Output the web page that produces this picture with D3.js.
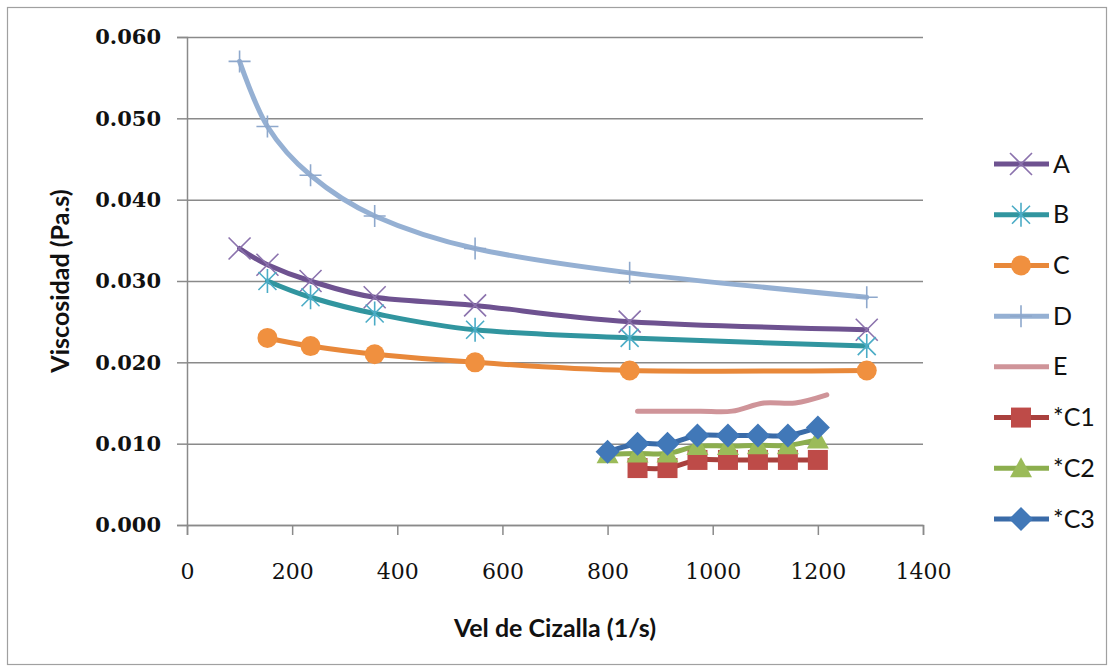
<!DOCTYPE html>
<html>
<head>
<meta charset="utf-8">
<script src="https://cdn.jsdelivr.net/npm/d3@7"></script>
<style>
  html, body { margin: 0; padding: 0; background: #ffffff; }
  svg { display: block; }
</style>
</head>
<body>
<svg id="chart" width="1117" height="672"></svg>
<script>
// Shear rates (1/s) for the main fluids
const rateMain = [100, 153, 235, 357, 548, 842, 1293];
const rateMainB = [153, 235, 357, 548, 842, 1293];
// Shear rates for the low-viscosity samples
const rateLow = [800, 857, 914, 971, 1029, 1086, 1143, 1200];
const rateLowC1 = [857, 914, 971, 1029, 1086, 1143, 1200];
const rateE = [857, 917, 977, 1037, 1097, 1157, 1217];

// Viscosity (Pa.s)
const viscA = [0.034, 0.032, 0.030, 0.028, 0.027, 0.025, 0.024];
const viscB = [0.030, 0.028, 0.026, 0.024, 0.023, 0.022];
const viscC = [0.023, 0.022, 0.021, 0.020, 0.019, 0.019];
const viscD = [0.057, 0.049, 0.043, 0.038, 0.034, 0.031, 0.028];
const viscE = [0.014, 0.014, 0.014, 0.014, 0.015, 0.015, 0.016];
const viscC1 = [0.007, 0.007, 0.008, 0.008, 0.008, 0.008, 0.008];
const viscC2 = [0.0087, 0.0088, 0.0088, 0.0097, 0.0097, 0.0098, 0.0098, 0.0105];
const viscC3 = [0.009, 0.010, 0.010, 0.011, 0.011, 0.011, 0.011, 0.012];

const seriesNames = ["A", "B", "C", "D", "E", "*C1", "*C2", "*C3"];

const xTicks = [0, 200, 400, 600, 800, 1000, 1200, 1400];
const yTicks = [0, 0.01, 0.02, 0.03, 0.04, 0.05, 0.06];

const xTitle = "Vel de Cizalla (1/s)";
const yTitle = "Viscosidad (Pa.s)";

// Series styling
const styles = {
  "A":   { line: "#6E5290", mark: "#8B72AD", shape: "x" },
  "B":   { line: "#31959F", mark: "#4BACC6", shape: "star" },
  "C":   { line: "#E8883A", mark: "#F0903F", shape: "circle" },
  "D":   { line: "#95B0D3", mark: "#8EA8CC", shape: "plus" },
  "E":   { line: "#CF9499", mark: null, shape: "none" },
  "*C1": { line: "#A9403D", mark: "#BE4B48", shape: "square" },
  "*C2": { line: "#8CAE4E", mark: "#9BBB59", shape: "triangle" },
  "*C3": { line: "#3A6BA8", mark: "#4178B8", shape: "diamond" }
};

const seriesData = [
  { name: "A", xs: rateMain, ys: viscA },
  { name: "B", xs: rateMainB, ys: viscB },
  { name: "C", xs: rateMainB, ys: viscC },
  { name: "D", xs: rateMain, ys: viscD },
  { name: "E", xs: rateE, ys: viscE },
  { name: "*C1", xs: rateLowC1, ys: viscC1 },
  { name: "*C2", xs: rateLow, ys: viscC2 },
  { name: "*C3", xs: rateLow, ys: viscC3 }
];

const svg = d3.select("#chart");

// Outer chart frame
svg.append("rect")
  .attr("x", 7.5).attr("y", 7.5)
  .attr("width", 1099).attr("height", 657)
  .attr("fill", "#ffffff")
  .attr("stroke", "#a0a0a0").attr("stroke-width", 1.2);

const plot = { left: 187, right: 923, top: 37, bottom: 525 };

const x = d3.scaleLinear().domain([0, 1400]).range([plot.left, plot.right]);
const y = d3.scaleLinear().domain([0, 0.06]).range([plot.bottom, plot.top]);

const serifFont = "'DejaVu Serif', 'Liberation Serif', serif";
const sansFont = "Lato, 'Open Sans', sans-serif";

// Horizontal gridlines with tick marks on the left
const yAxis = d3.axisLeft(y)
  .tickValues(yTicks)
  .tickFormat(d3.format(".3f"))
  .tickSize(10)
  .tickPadding(16);

const gy = svg.append("g")
  .attr("transform", `translate(${plot.left},0)`)
  .call(yAxis);
gy.select(".domain").attr("stroke", "#8a8a8a").attr("stroke-width", 1.5);
gy.selectAll(".tick line").attr("stroke", "#8a8a8a").attr("stroke-width", 1.5);
gy.selectAll(".tick").append("line")
  .attr("x1", 0).attr("x2", plot.right - plot.left)
  .attr("stroke", "#8a8a8a").attr("stroke-width", 1.5);
gy.selectAll(".tick text")
  .attr("font-family", serifFont)
  .attr("font-weight", "bold")
  .attr("font-size", 21)
  .attr("fill", "#111");

// X axis with downward tick marks
const xAxis = d3.axisBottom(x)
  .tickValues(xTicks)
  .tickFormat(d3.format("d"))
  .tickSize(10)
  .tickPadding(28);

const gx = svg.append("g")
  .attr("transform", `translate(0,${plot.bottom})`)
  .call(xAxis);
gx.select(".domain").attr("stroke", "#8a8a8a").attr("stroke-width", 1.5);
gx.selectAll(".tick line").attr("stroke", "#8a8a8a").attr("stroke-width", 1.5);
gx.selectAll(".tick text")
  .attr("font-family", serifFont)
  .attr("font-size", 22)
  .attr("fill", "#111");

// Axis titles
svg.append("text")
  .attr("x", (plot.left + plot.right) / 2)
  .attr("y", 637)
  .attr("text-anchor", "middle")
  .attr("font-family", sansFont)
  .attr("font-weight", "bold")
  .attr("font-size", 25)
  .attr("fill", "#111")
  .text(xTitle);

svg.append("text")
  .attr("transform", `translate(69,${(plot.top + plot.bottom) / 2}) rotate(-90)`)
  .attr("text-anchor", "middle")
  .attr("font-family", sansFont)
  .attr("font-weight", "bold")
  .attr("font-size", 25)
  .attr("fill", "#111")
  .text(yTitle);

// Marker drawing
function drawMarker(g, shape, color) {
  switch (shape) {
    case "x":
      g.append("path").attr("d", "M-11,-11L11,11M-11,11L11,-11")
        .attr("stroke", color).attr("stroke-width", 1.6).attr("fill", "none");
      break;
    case "star":
      g.append("path").attr("d", "M-9,-9L9,9M-9,9L9,-9M0,-12L0,12")
        .attr("stroke", color).attr("stroke-width", 1.6).attr("fill", "none");
      break;
    case "plus":
      g.append("path").attr("d", "M0,-11L0,11M-11,0L11,0")
        .attr("stroke", color).attr("stroke-width", 1.6).attr("fill", "none");
      break;
    case "circle":
      g.append("circle").attr("r", 10).attr("fill", color);
      break;
    case "square":
      g.append("rect").attr("x", -10).attr("y", -10).attr("width", 20).attr("height", 20)
        .attr("fill", color);
      break;
    case "triangle":
      g.append("path").attr("d", "M0,-11L11,9L-11,9Z").attr("fill", color);
      break;
    case "diamond":
      g.append("path").attr("d", "M0,-12L12,0L0,12L-12,0Z").attr("fill", color);
      break;
  }
}

const line = d3.line()
  .x(d => x(d[0]))
  .y(d => y(d[1]))
  .curve(d3.curveCatmullRom.alpha(0));

const seriesLayer = svg.append("g");
seriesData.forEach(s => {
  const st = styles[s.name];
  const pts = s.xs.map((v, i) => [v, s.ys[i]]);
  const g = seriesLayer.append("g");
  g.append("path")
    .datum(pts)
    .attr("d", line)
    .attr("fill", "none")
    .attr("stroke", st.line)
    .attr("stroke-width", 5)
    .attr("stroke-linejoin", "round")
    .attr("stroke-linecap", "round");
  if (st.shape !== "none") {
    pts.forEach(p => {
      const mg = g.append("g").attr("transform", `translate(${x(p[0])},${y(p[1])})`);
      drawMarker(mg, st.shape, st.mark);
    });
  }
});

// Legend
const legend = svg.append("g");
const legendY = d3.scalePoint().domain(seriesNames).range([164, 519]);
seriesNames.forEach(name => {
  const st = styles[name];
  const ly = legendY(name);
  const item = legend.append("g").attr("transform", `translate(0,${ly})`);
  item.append("line")
    .attr("x1", 994).attr("x2", 1049)
    .attr("stroke", st.line).attr("stroke-width", 5);
  if (st.shape !== "none") {
    const mg = item.append("g").attr("transform", "translate(1021,0)");
    drawMarker(mg, st.shape, st.mark);
  }
  item.append("text")
    .attr("x", 1053).attr("y", 8.5)
    .attr("font-family", sansFont)
    .attr("font-size", 25)
    .attr("fill", "#111")
    .text(name);
});
</script>
</body>
</html>
